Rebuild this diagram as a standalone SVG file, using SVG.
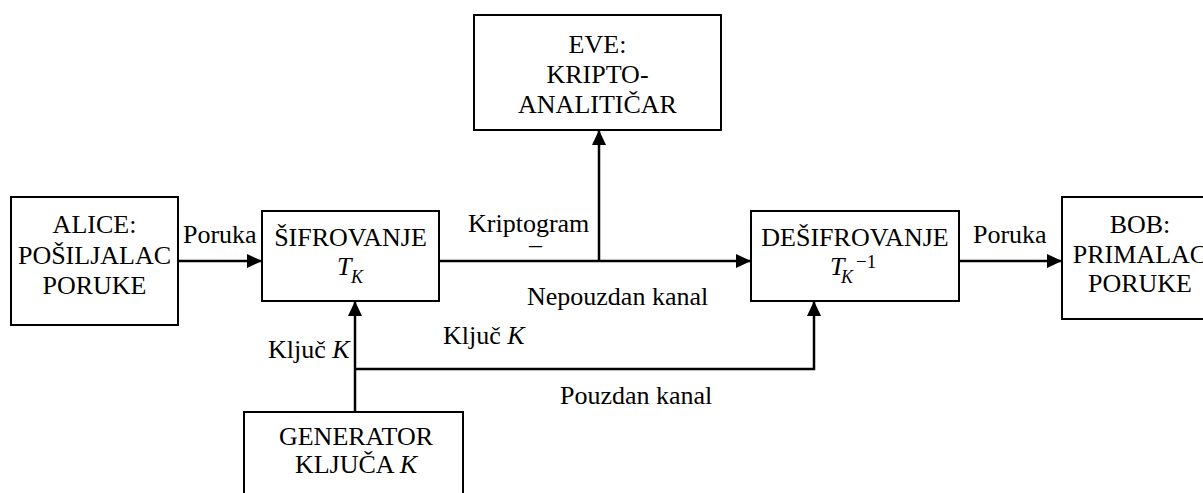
<svg xmlns="http://www.w3.org/2000/svg" width="1203" height="493" viewBox="0 0 1203 493">
  <style>
    .box { fill: #fff; stroke: #000; stroke-width: 2; }
    .wire { fill: none; stroke: #000; stroke-width: 2.5; }
    text { font-family: "Liberation Serif", "Times New Roman", serif; font-size: 26px; fill: #000; }
    .c { text-anchor: middle; }
    .i { font-style: italic; }
    .sub { font-size: 18px; font-style: italic; }
    .sup { font-size: 19px; }
  </style>
  <defs>
    <marker id="arrow" markerUnits="userSpaceOnUse" markerWidth="16" markerHeight="14" refX="15" refY="7" orient="auto">
      <path d="M0,0 L15,7 L0,14 Z" fill="#000"/>
    </marker>
  </defs>

  <!-- connectors -->
  <g id="connectors">
    <line class="wire" x1="178" y1="261" x2="262" y2="261" marker-end="url(#arrow)"/>
    <line class="wire" x1="439" y1="261" x2="751" y2="261" marker-end="url(#arrow)"/>
    <line class="wire" x1="599" y1="261" x2="599" y2="130" marker-end="url(#arrow)"/>
    <line class="wire" x1="959" y1="261" x2="1062" y2="261" marker-end="url(#arrow)"/>
    <line class="wire" x1="355" y1="412" x2="355" y2="301" marker-end="url(#arrow)"/>
    <polyline class="wire" points="355,369 814,369 814,301" marker-end="url(#arrow)"/>
  </g>

  <!-- connector labels -->
  <g id="labels">
    <text x="183" y="243">Poruka</text>
    <text x="468" y="232">Kriptogram</text>
    <text x="529" y="253">–</text>
    <text x="527" y="305">Nepouzdan kanal</text>
    <text x="973" y="243">Poruka</text>
    <text x="268" y="358">Ključ <tspan class="i">K</tspan></text>
    <text x="443" y="344">Ključ <tspan class="i">K</tspan></text>
    <text x="560" y="404">Pouzdan kanal</text>
  </g>

  <g id="alice">
    <rect class="box" x="11" y="197" width="167" height="128"/>
    <text class="c" x="94.5" y="233">ALICE:</text>
    <text class="c" x="94.5" y="264">POŠILJALAC</text>
    <text class="c" x="94.5" y="294">PORUKE</text>
  </g>

  <g id="sifrovanje">
    <rect class="box" x="262" y="211" width="177" height="90"/>
    <text class="c" x="350.5" y="246">ŠIFROVANJE</text>
    <text class="i" x="337" y="275">T</text>
    <text class="sub" x="351" y="283">K</text>
  </g>

  <g id="eve">
    <rect class="box" x="474" y="15" width="247" height="115"/>
    <text class="c" x="597.5" y="53">EVE:</text>
    <text class="c" x="597.5" y="83">KRIPTO-</text>
    <text class="c" x="597.5" y="113">ANALITIČAR</text>
  </g>

  <g id="desifrovanje">
    <rect class="box" x="751" y="211" width="208" height="90"/>
    <text class="c" x="855" y="246">DEŠIFROVANJE</text>
    <text class="i" x="830" y="275">T</text>
    <text class="sub" x="841" y="283">K</text>
    <text class="sup" x="856" y="268">−1</text>
  </g>

  <g id="bob">
    <rect class="box" x="1062" y="197" width="156" height="122"/>
    <text class="c" x="1140" y="233">BOB:</text>
    <text class="c" x="1140" y="263">PRIMALAC</text>
    <text class="c" x="1140" y="292">PORUKE</text>
  </g>

  <g id="generator">
    <rect class="box" x="244" y="412" width="219" height="90"/>
    <text class="c" x="356" y="445">GENERATOR</text>
    <text class="c" x="356" y="473">KLJUČA <tspan class="i">K</tspan></text>
  </g>
</svg>
